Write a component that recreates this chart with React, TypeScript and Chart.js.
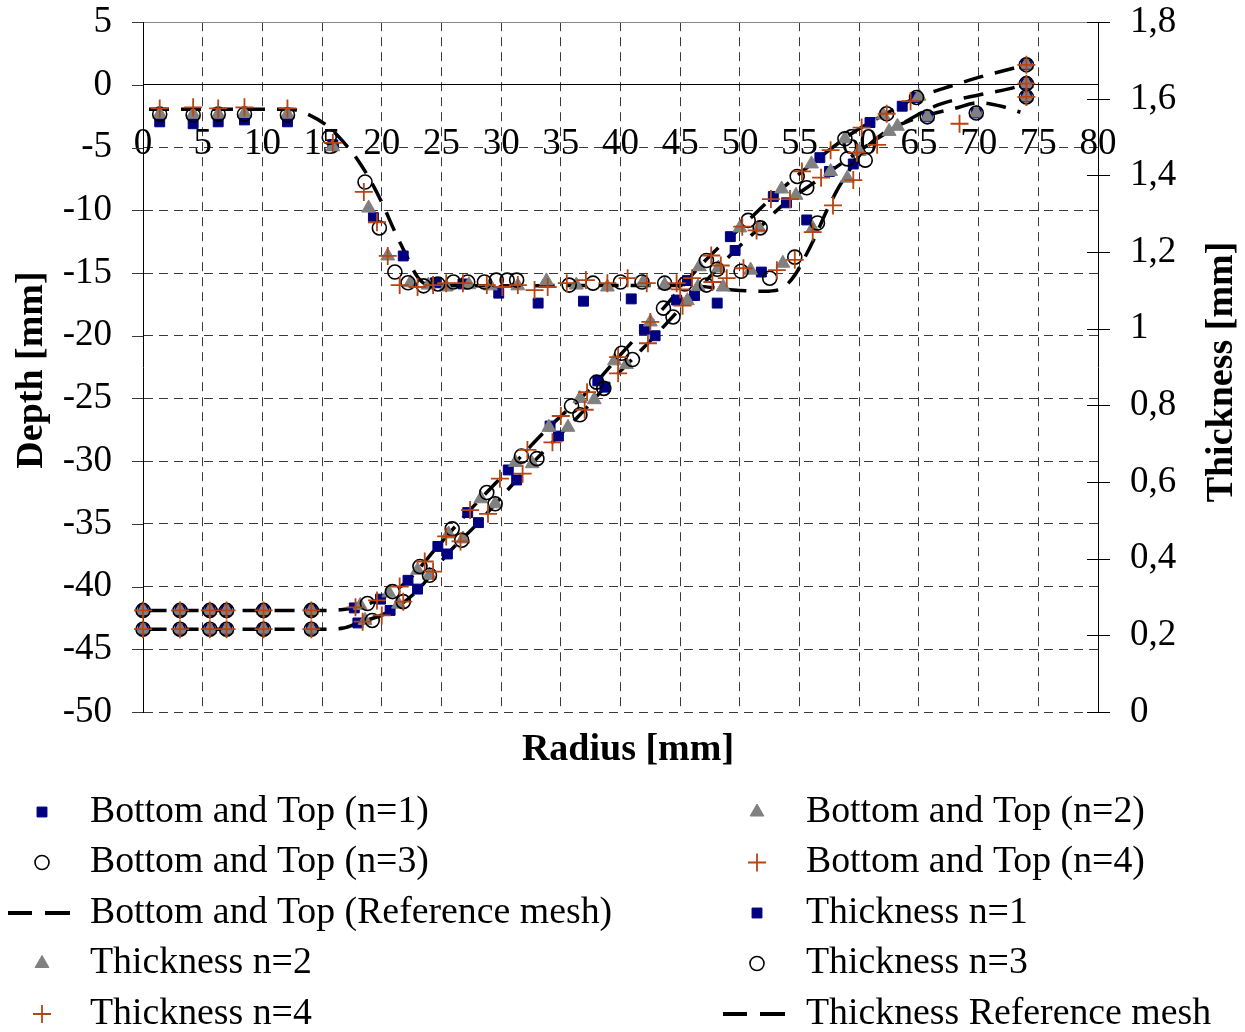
import React, { useEffect, useRef } from "react";
import { Chart, registerables } from "chart.js";

Chart.register(...registerables);

const FONT = "'Liberation Serif', 'Times New Roman', Times, serif";

// ---------- Depth (left axis) : Bottom and Top surfaces ----------
const depthTopN1X = [0, 3.1, 5.6, 7.0, 10.1, 14.1, 17.7, 19.9, 22.2, 24.7, 27.2, 30.6, 34.1, 38.1, 42.0, 45.6, 49.2, 52.8, 56.7, 60.9, 63.6, 64.8, 74.0];
const depthTopN1Y = [-41.9, -41.9, -41.9, -41.9, -41.9, -41.9, -41.7, -41.0, -39.5, -36.8, -34.1, -30.7, -27.2, -23.6, -19.5, -15.6, -12.1, -8.9, -5.8, -3.0, -1.7, -1.0, 1.6];
const depthBotN1X = [0, 3.1, 5.6, 7.0, 10.1, 14.1, 18.0, 20.7, 23.0, 25.5, 28.1, 31.3, 34.8, 38.7, 42.9, 46.2, 49.6, 53.9, 57.5, 74.0];
const depthBotN1Y = [-43.4, -43.4, -43.4, -43.4, -43.4, -43.4, -42.9, -41.9, -40.2, -37.4, -34.9, -31.5, -28.0, -24.1, -20.0, -16.8, -13.2, -9.4, -6.9, 0.1];

const depthTopN2X = [0, 3.1, 5.6, 7.0, 10.1, 14.1, 18.2, 20.6, 23.0, 25.6, 28.3, 31.2, 34.0, 36.6, 39.5, 42.5, 46.6, 50.0, 53.5, 56.0, 58.8, 62.0, 65.0, 74.0];
const depthTopN2Y = [-41.9, -41.9, -41.9, -41.9, -41.9, -41.9, -41.5, -40.5, -38.7, -35.8, -33.0, -30.1, -27.3, -25.0, -22.0, -18.9, -14.5, -11.4, -8.3, -6.3, -4.3, -2.4, -0.9, 1.6];
const depthBotN2X = [0, 3.1, 5.6, 7.0, 10.1, 14.1, 18.6, 21.4, 24.0, 26.8, 29.5, 32.6, 35.6, 37.8, 40.5, 45.6, 48.2, 51.6, 54.7, 57.6, 60.0, 63.2, 74.0];
const depthBotN2Y = [-43.4, -43.4, -43.4, -43.4, -43.4, -43.4, -42.7, -41.4, -39.1, -36.2, -33.4, -30.2, -27.3, -25.1, -22.3, -17.2, -14.6, -11.4, -8.8, -6.9, -5.3, -3.3, 0.1];

const depthTopN3X = [0, 3.1, 5.6, 7.0, 10.1, 14.1, 18.8, 20.9, 23.2, 25.9, 28.8, 31.7, 35.9, 38.0, 40.1, 43.6, 47.2, 50.7, 54.8, 58.8, 62.3, 64.8, 74.0];
const depthTopN3Y = [-41.9, -41.9, -41.9, -41.9, -41.9, -41.9, -41.35, -40.4, -38.4, -35.4, -32.5, -29.6, -25.6, -23.7, -21.4, -17.8, -14.0, -10.8, -7.3, -4.3, -2.3, -1.0, 1.6];
const depthBotN3X = [0, 3.1, 5.6, 7.0, 10.1, 14.1, 19.2, 21.8, 24.0, 26.7, 29.5, 33.0, 36.6, 38.6, 41.0, 44.4, 48.1, 51.7, 55.6, 59.0, 74.0];
const depthBotN3Y = [-43.4, -43.4, -43.4, -43.4, -43.4, -43.4, -42.7, -41.2, -39.1, -36.3, -33.4, -29.8, -26.3, -24.2, -21.9, -18.5, -14.7, -11.4, -8.2, -5.9, 0.1];

const depthTopN4X = [0, 3.1, 5.6, 7.0, 10.1, 14.1, 17.8, 19.6, 21.5, 23.6, 25.4, 27.4, 29.9, 32.2, 35.0, 37.2, 39.8, 42.5, 45.0, 47.6, 50.2, 52.6, 55.2, 57.6, 60.2, 62.3, 64.3, 74.0];
const depthTopN4Y = [-41.9, -41.9, -41.9, -41.9, -41.9, -41.9, -41.65, -41.1, -40.0, -38.0, -36.0, -33.9, -31.4, -29.1, -26.4, -24.5, -21.7, -18.9, -16.3, -13.6, -11.3, -9.1, -6.9, -5.2, -3.4, -2.3, -1.3, 1.6];
const depthBotN4X = [0, 3.1, 5.6, 7.0, 10.1, 14.1, 18.4, 20.0, 21.8, 24.3, 26.6, 28.9, 31.8, 34.3, 37.0, 39.8, 42.3, 45.2, 48.4, 51.4, 54.2, 56.8, 59.8, 74.0];
const depthBotN4Y = [-43.4, -43.4, -43.4, -43.4, -43.4, -43.4, -42.8, -42.3, -41.2, -38.8, -36.4, -34.2, -31.0, -28.5, -25.9, -23.0, -20.6, -17.6, -14.4, -11.6, -9.1, -7.4, -5.4, 0.1];

const depthRefTopX = [0.3, 3, 6, 9, 12, 15, 16.5, 17.7, 19.8, 22.1, 24.6, 27.2, 30.6, 33.9, 37.4, 40.1, 43.6, 46.9, 50.6, 52.9, 56.4, 59.5, 60.9, 62.8, 64.8, 67, 70, 74];
const depthRefTopY = [-41.9, -41.9, -41.9, -41.9, -41.9, -41.9, -41.85, -41.7, -41.0, -39.6, -36.9, -34.1, -30.7, -27.4, -24.3, -21.4, -17.8, -14.2, -10.9, -8.8, -6.0, -3.8, -3.0, -2.0, -1.0, -0.3, 0.6, 1.6];
const depthRefBotX = [0.3, 3, 6, 9, 12, 15, 16.8, 18.0, 20.4, 22.9, 25.5, 28.1, 31.3, 34.5, 36.6, 38.9, 42.9, 46.2, 49.6, 51.4, 53.8, 55.6, 57.4, 59.5, 61.5, 63.4, 66.6, 70, 72.6, 74];
const depthRefBotY = [-43.4, -43.4, -43.4, -43.4, -43.4, -43.4, -43.3, -42.9, -42.1, -40.4, -37.4, -34.9, -31.5, -28.3, -26.3, -23.9, -20.0, -16.6, -13.2, -11.6, -9.4, -8.2, -7.0, -5.6, -4.3, -3.2, -1.6, -0.8, -0.3, 0.1];

// ---------- Thickness (right axis) ----------
const thickN1X = [1.4, 4.2, 6.3, 8.5, 12.1, 15.9, 19.3, 21.8, 24.5, 26.8, 29.8, 33.1, 36.9, 40.9, 44.7, 48.1, 51.8, 55.6, 59.5, 65.7, 69.8, 74.0];
const thickN1Y = [1.54, 1.535, 1.54, 1.545, 1.54, 1.48, 1.29, 1.19, 1.12, 1.117, 1.093, 1.067, 1.072, 1.078, 1.075, 1.067, 1.148, 1.284, 1.43, 1.553, 1.563, 1.605];
const thickN2X = [1.4, 4.2, 6.3, 8.5, 12.1, 15.9, 18.9, 20.5, 22.4, 23.9, 25.4, 27.3, 29.1, 31.4, 33.8, 36.3, 38.9, 41.9, 43.7, 46.5, 48.6, 50.9, 53.6, 56.1, 59.0, 62.5, 65.7, 69.8, 74.0];
const thickN2Y = [1.56, 1.56, 1.56, 1.562, 1.56, 1.475, 1.315, 1.19, 1.12, 1.114, 1.109, 1.115, 1.112, 1.112, 1.125, 1.114, 1.109, 1.122, 1.114, 1.11, 1.109, 1.153, 1.171, 1.262, 1.393, 1.515, 1.553, 1.563, 1.605];
const thickN3X = [1.4, 4.2, 6.3, 8.5, 12.1, 15.6, 18.6, 19.8, 21.1, 22.2, 23.5, 24.7, 26.0, 27.2, 28.6, 29.6, 30.5, 31.3, 35.7, 37.7, 40.0, 41.8, 43.7, 45.4, 47.2, 50.1, 52.5, 54.6, 56.5, 60.5, 65.7, 69.8, 74.0];
const thickN3Y = [1.56, 1.558, 1.56, 1.56, 1.558, 1.50, 1.383, 1.263, 1.148, 1.12, 1.112, 1.117, 1.122, 1.122, 1.122, 1.127, 1.127, 1.127, 1.114, 1.119, 1.122, 1.122, 1.119, 1.117, 1.114, 1.15, 1.132, 1.187, 1.276, 1.44, 1.553, 1.563, 1.605];
const thickN4X = [1.4, 4.2, 6.3, 8.5, 12.1, 15.9, 18.5, 19.6, 20.5, 21.5, 23.0, 24.3, 25.4, 26.8, 28.8, 30.1, 31.4, 32.8, 33.9, 35.5, 37.1, 38.9, 40.6, 42.2, 44.7, 46.0, 47.7, 48.9, 50.3, 53.1, 54.6, 56.1, 57.8, 59.5, 61.5, 68.4, 74.0];
const thickN4Y = [1.575, 1.578, 1.575, 1.578, 1.575, 1.485, 1.357, 1.278, 1.19, 1.114, 1.109, 1.114, 1.119, 1.119, 1.114, 1.109, 1.114, 1.101, 1.109, 1.119, 1.127, 1.119, 1.132, 1.119, 1.119, 1.132, 1.122, 1.132, 1.158, 1.153, 1.18, 1.252, 1.322, 1.388, 1.48, 1.535, 1.605];
const thickRefX = [0.5, 3, 6, 9, 12.5, 14, 15.5, 17, 18, 19, 20, 21, 22, 23, 24, 27, 30, 35, 40, 45, 47, 48.5, 50, 52, 53.5, 54.6, 55.5, 56.3, 57.3, 58.3, 59.3, 60.5, 62, 64, 66, 68, 70, 72, 73.5];
const thickRefY = [1.573, 1.573, 1.573, 1.573, 1.572, 1.557, 1.528, 1.48, 1.44, 1.39, 1.33, 1.26, 1.195, 1.135, 1.113, 1.112, 1.112, 1.113, 1.113, 1.113, 1.11, 1.104, 1.10, 1.098, 1.105, 1.14, 1.19, 1.24, 1.31, 1.37, 1.42, 1.47, 1.51, 1.54, 1.56, 1.575, 1.59, 1.58, 1.565];

// ---------- Axes ----------
const xTickStep = 5;
const depthMin = -50, depthMax = 5, depthStep = 5;
const thickMin = 0, thickMax = 1.8, thickStep = 0.2;

const labels = [
  "Bottom and Top (n=1)",
  "Bottom and Top (n=2)",
  "Bottom and Top (n=3)",
  "Bottom and Top (n=4)",
  "Bottom and Top (Reference mesh)",
  "Thickness n=1",
  "Thickness n=2",
  "Thickness n=3",
  "Thickness n=4",
  "Thickness Reference mesh",
];

const pts = (xs: number[], ys: number[]) => xs.map((x, i) => ({ x, y: ys[i] }));

const NAVY = "#000080";
const GRAY = "#808080";
const ORANGE = "#B84412";

const styleN1 = { pointStyle: "rect", pointRadius: 7, backgroundColor: NAVY, borderColor: NAVY, pointBackgroundColor: NAVY, pointBorderColor: NAVY, pointBorderWidth: 1, order: 4 };
const styleN2 = { pointStyle: "triangle", pointRadius: 8, backgroundColor: GRAY, borderColor: GRAY, pointBackgroundColor: GRAY, pointBorderColor: GRAY, pointBorderWidth: 1, order: 3 };
const styleN3 = { pointStyle: "circle", pointRadius: 7, backgroundColor: "rgba(0,0,0,0)", borderColor: "#000", pointBackgroundColor: "rgba(0,0,0,0)", pointBorderColor: "#000", pointBorderWidth: 1.6, order: 2 };
const styleN4 = { pointStyle: "cross", pointRadius: 9, backgroundColor: ORANGE, borderColor: ORANGE, pointBackgroundColor: ORANGE, pointBorderColor: ORANGE, pointBorderWidth: 1.8, order: 1 };
const styleRef = { showLine: true, borderColor: "#000", backgroundColor: "#000", borderWidth: 3.5, borderDash: [20, 12], pointRadius: 0, cubicInterpolationMode: "monotone", spanGaps: false, order: 10 };

function drawMarker(ctx: CanvasRenderingContext2D, ds: any, x: number, y: number, left: boolean) {
  ctx.save();
  if (ds.showLine) {
    ctx.strokeStyle = "#000";
    ctx.lineWidth = 4;
    ctx.setLineDash([]);
    const x0 = left ? 8 : 723;
    ctx.beginPath();
    ctx.moveTo(x0, y); ctx.lineTo(x0 + 24, y);
    ctx.moveTo(x0 + 37, y); ctx.lineTo(x0 + 62, y);
    ctx.stroke();
    ctx.restore();
    return;
  }
  const r = ds.pointRadius;
  ctx.fillStyle = ds.pointBackgroundColor;
  ctx.strokeStyle = ds.pointBorderColor;
  ctx.lineWidth = ds.pointBorderWidth;
  ctx.beginPath();
  if (ds.pointStyle === "rect") {
    const s = r * Math.SQRT1_2;
    ctx.rect(x - s, y - s, 2 * s, 2 * s);
    ctx.fill(); ctx.stroke();
  } else if (ds.pointStyle === "triangle") {
    ctx.moveTo(x, y - r);
    ctx.lineTo(x + Math.sin((2 * Math.PI) / 3) * r, y + r / 2);
    ctx.lineTo(x - Math.sin((2 * Math.PI) / 3) * r, y + r / 2);
    ctx.closePath();
    ctx.fill(); ctx.stroke();
  } else if (ds.pointStyle === "circle") {
    ctx.arc(x, y, r, 0, Math.PI * 2);
    ctx.stroke();
  } else if (ds.pointStyle === "cross") {
    ctx.moveTo(x - r, y); ctx.lineTo(x + r, y);
    ctx.moveTo(x, y - r); ctx.lineTo(x, y + r);
    ctx.stroke();
  }
  ctx.restore();
}

const decorPlugin = {
  id: "decor",
  beforeDatasetsDraw(chart: any) {
    const { ctx, chartArea } = chart;
    const y2 = chart.scales.y2;
    const y = chart.scales.y;
    ctx.save();
    ctx.strokeStyle = "#000";
    ctx.lineWidth = 1;
    y2.ticks.forEach((t: any) => {
      const py = Math.round(y2.getPixelForValue(t.value)) + 0.5;
      ctx.beginPath();
      ctx.moveTo(chartArea.right - 11, py);
      ctx.lineTo(chartArea.right + 12, py);
      ctx.stroke();
    });
    ctx.strokeStyle = "#3a3a3a";
    y.ticks.forEach((t: any) => {
      const py = Math.round(y.getPixelForValue(t.value)) + 0.5;
      ctx.beginPath();
      ctx.moveTo(chartArea.left - 11, py);
      ctx.lineTo(chartArea.left, py);
      ctx.stroke();
    });
    ctx.restore();
  },
  afterDraw(chart: any) {
    const { ctx } = chart;
    ctx.save();
    ctx.fillStyle = "#000";
    ctx.font = `bold 38px ${FONT}`;
    ctx.textAlign = "center";
    ctx.textBaseline = "middle";
    ctx.fillText("Radius [mm]", 628, 750);
    ctx.save();
    ctx.translate(32, 370);
    ctx.rotate(-Math.PI / 2);
    ctx.fillText("Depth [mm]", 0, 0);
    ctx.restore();
    ctx.save();
    ctx.translate(1222, 372);
    ctx.rotate(-Math.PI / 2);
    ctx.fillText("Thickness [mm]", 0, 0);
    ctx.restore();

    // legend
    ctx.font = `37.8px ${FONT}`;
    ctx.textAlign = "left";
    ctx.textBaseline = "middle";
    chart.data.datasets.forEach((ds: any, i: number) => {
      const left = i % 2 === 0;
      const row = Math.floor(i / 2);
      const yy = 812 + row * 50.5;
      drawMarker(ctx, ds, left ? 42 : 757, yy, left);
      ctx.fillStyle = "#000";
      ctx.fillText(ds.label, left ? 90 : 806, yy);
    });
    ctx.restore();
  },
};

export default function App() {
  const ref = useRef<HTMLCanvasElement>(null);
  useEffect(() => {
    const canvas = ref.current;
    if (!canvas) return;
    const tickFont = { family: FONT, size: 37 };
    const gridDash = [9, 6];
    const chart = new Chart(canvas, {
      type: "scatter",
      data: {
        datasets: [
          { label: labels[0], data: [...pts(depthBotN1X, depthBotN1Y), ...pts(depthTopN1X, depthTopN1Y)], yAxisID: "y", clip: false, ...styleN1 },
          { label: labels[1], data: [...pts(depthBotN2X, depthBotN2Y), ...pts(depthTopN2X, depthTopN2Y)], yAxisID: "y", clip: false, ...styleN2 },
          { label: labels[2], data: [...pts(depthBotN3X, depthBotN3Y), ...pts(depthTopN3X, depthTopN3Y)], yAxisID: "y", clip: false, ...styleN3 },
          { label: labels[3], data: [...pts(depthBotN4X, depthBotN4Y), ...pts(depthTopN4X, depthTopN4Y)], yAxisID: "y", clip: false, ...styleN4 },
          { label: labels[4], data: [...pts(depthRefBotX, depthRefBotY), { x: null, y: null }, ...pts(depthRefTopX, depthRefTopY)], yAxisID: "y", clip: false, ...styleRef },
          { label: labels[5], data: pts(thickN1X, thickN1Y), yAxisID: "y2", clip: false, ...styleN1 },
          { label: labels[6], data: pts(thickN2X, thickN2Y), yAxisID: "y2", clip: false, ...styleN2 },
          { label: labels[7], data: pts(thickN3X, thickN3Y), yAxisID: "y2", clip: false, ...styleN3 },
          { label: labels[8], data: pts(thickN4X, thickN4Y), yAxisID: "y2", clip: false, ...styleN4 },
          { label: labels[9], data: pts(thickRefX, thickRefY), yAxisID: "y2", clip: false, ...styleRef },
        ] as any,
      },
      options: {
        responsive: false,
        animation: false,
        devicePixelRatio: 1,
        layout: { padding: { top: 22, bottom: 320, left: 0, right: 0 } },
        plugins: { legend: { display: false }, tooltip: { enabled: false } },
        scales: {
          x: {
            type: "linear",
            position: { y: 0 } as any,
            min: 0,
            max: 80,
            ticks: { stepSize: xTickStep, autoSkip: false, maxRotation: 0, padding: 37, font: tickFont, color: "#000" },
            grid: {
              drawTicks: false,
              lineWidth: 1,
              color: (c: any) => (c.tick && (c.tick.value === 0 || c.tick.value === 80) ? "rgba(0,0,0,0)" : "#3a3a3a"),
            },
            border: { display: true, color: "#000", width: 1, dash: gridDash },
          },
          y: {
            type: "linear",
            position: "left",
            min: depthMin,
            max: depthMax,
            ticks: { stepSize: depthStep, padding: 0, font: tickFont, color: "#000", callback: (v: any) => String(v) },
            grid: {
              lineWidth: 1,
              drawTicks: true,
              tickLength: 31,
              tickColor: "rgba(0,0,0,0)",
              color: (c: any) => (c.tick && c.tick.value === depthMax ? "#8a8a8a" : "#3a3a3a"),
            },
            border: {
              display: true,
              color: "#000",
              width: 1,
              dash: (c: any) => (c.tick && c.tick.value === depthMax ? [] : gridDash),
            },
            afterFit: (s: any) => { s.width = 143; },
          },
          y2: {
            type: "linear",
            position: "right",
            min: thickMin,
            max: thickMax,
            ticks: {
              stepSize: thickStep,
              padding: 0,
              font: tickFont,
              color: "#000",
              callback: (v: any) => String(Math.round(Number(v) * 10) / 10).replace(".", ","),
            },
            grid: { display: true, drawOnChartArea: false, drawTicks: true, tickLength: 32, tickColor: "rgba(0,0,0,0)" },
            border: { display: true, color: "#000", width: 1 },
            afterFit: (s: any) => { s.width = 147; },
          },
        },
      } as any,
      plugins: [decorPlugin],
    });
    return () => chart.destroy();
  }, []);

  return (
    <div style={{ position: "absolute", left: 0, top: 0, width: 1245, height: 1032, background: "#fff" }}>
      <canvas ref={ref} width={1245} height={1032} style={{ display: "block" }} />
    </div>
  );
}
